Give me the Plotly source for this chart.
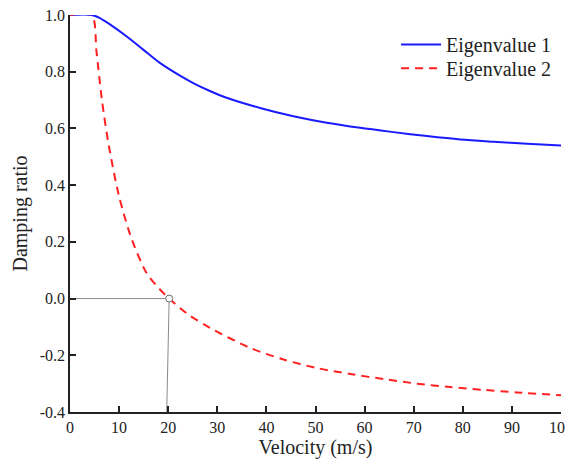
import plotly.graph_objects as go

# Eigenvalue 1 (blue, solid)
v1 = [0, 4.4, 6.0, 8.2, 11.5, 14.9, 18.3, 22.4, 25.1, 28.5, 31.9, 38.7, 45.5, 52.3, 59.1, 65.9, 72.7, 79.5, 86.3, 93.1, 100]
d1 = [1.0, 1.0, 0.99, 0.966, 0.925, 0.878, 0.831, 0.786, 0.760, 0.732, 0.708, 0.672, 0.643, 0.620, 0.602, 0.587, 0.573, 0.561, 0.553, 0.546, 0.540]

# Eigenvalue 2 (red, dashed)
v2 = [0, 4.4, 5.4, 6.5, 7.9, 10.0, 12.6, 15.6, 18.0, 20.2, 24.0, 28.5, 36.7, 43.5, 50.3, 57.1, 63.9, 70.7, 77.4, 84.2, 91.0, 100]
d2 = [1.0, 1.0, 0.87, 0.70, 0.54, 0.36, 0.208, 0.09, 0.038, 0.0, -0.055, -0.103, -0.174, -0.215, -0.245, -0.266, -0.284, -0.300, -0.312, -0.322, -0.331, -0.341]

# Zero-crossing guide
cross_v = [0, 20.2, 19.7]
cross_d = [0.0, 0.0, -0.4]
mark_v = [20.2]
mark_d = [0.0]

x_ticks = [0, 10, 20, 30, 40, 50, 60, 70, 80, 90, 100]
x_text = ["0", "10", "20", "30", "40", "50", "60", "70", "80", "90", "100"]
y_ticks = [-0.4, -0.2, 0.0, 0.2, 0.4, 0.6, 0.8, 1.0]
y_text = ["-0.4", "-0.2", "0.0", "0.2", "0.4", "0.6", "0.8", "1.0"]

FONT = "Liberation Serif"
TXT = "#222222"

fig = go.Figure()
fig.add_trace(go.Scatter(x=cross_v, y=cross_d, mode="lines", cliponaxis=False,
                         line=dict(color="#8a8a8a", width=1), showlegend=False, hoverinfo="skip"))
fig.add_trace(go.Scatter(x=v1, y=d1, mode="lines", name="Eigenvalue 1", legend="legend",
                         line=dict(color="#1a1aff", width=2, shape="spline", smoothing=0.8)))
fig.add_trace(go.Scatter(x=v2, y=d2, mode="lines", name="Eigenvalue 2", legend="legend2",
                         line=dict(color="#ff2020", width=2, dash="8px,6px", shape="spline", smoothing=0.8)))
fig.add_trace(go.Scatter(x=mark_v, y=mark_d, mode="markers", showlegend=False,
                         marker=dict(symbol="circle", size=7, color="white",
                                     line=dict(color="#6a6a6a", width=1))))

legend_style = dict(xanchor="right", yanchor="middle",
                    font=dict(family=FONT, size=20, color=TXT),
                    bgcolor="rgba(0,0,0,0)", itemwidth=40)

# page body has an 8px margin; margins chosen so the plot area lands where the reference has it
fig.update_layout(
    width=573, height=463,
    margin=dict(l=62, r=20, t=7, b=59, autoexpand=False),
    paper_bgcolor="white", plot_bgcolor="white",
    font=dict(family=FONT, color=TXT, size=16),
    legend=dict(x=0.99, y=0.926, **legend_style),
    legend2=dict(x=0.99, y=0.866, **legend_style),
    xaxis=dict(range=[0, 100], tickvals=x_ticks, ticktext=x_text, automargin=False,
               ticklabeloverflow="allow",
               ticks="inside", ticklen=6, tickwidth=1.5, tickcolor=TXT,
               showline=True, linecolor=TXT, linewidth=1.5,
               showgrid=False, zeroline=False,
               title=dict(text="Velocity (m/s)", font=dict(family=FONT, size=20, color=TXT), standoff=5),
               tickfont=dict(family=FONT, size=16, color=TXT)),
    yaxis=dict(range=[-0.4, 1.0], tickvals=y_ticks, ticktext=y_text, automargin=False,
               ticklabeloverflow="allow",
               ticks="inside", ticklen=6, tickwidth=1.5, tickcolor=TXT,
               showline=True, linecolor=TXT, linewidth=1.5,
               showgrid=False, zeroline=False,
               title=dict(text="Damping ratio", font=dict(family=FONT, size=20, color=TXT), standoff=7),
               tickfont=dict(family=FONT, size=16, color=TXT)),
)

fig.write_html("out.html")
